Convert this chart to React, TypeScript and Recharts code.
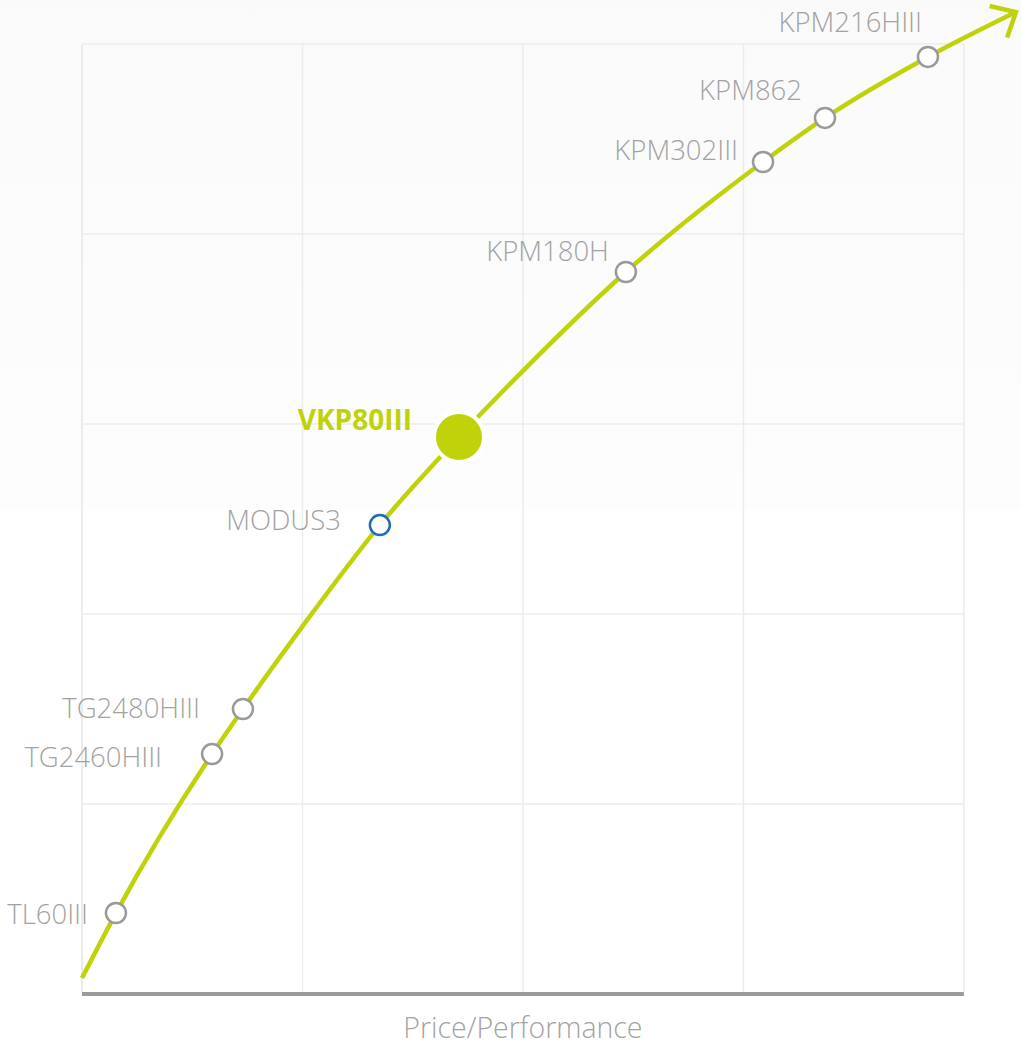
import React from "react";
import {
  ComposedChart,
  Line,
  Scatter,
  XAxis,
  YAxis,
  ReferenceLine,
} from "recharts";

// ---- data ----
const productNames = [
  "TL60III",
  "TG2460HIII",
  "TG2480HIII",
  "MODUS3",
  "VKP80III",
  "KPM180H",
  "KPM302III",
  "KPM862",
  "KPM216HIII",
];
const productX = [0.154, 0.59, 0.73, 1.351, 1.71, 2.467, 3.089, 3.37, 3.837];
const productY = [0.426, 1.263, 1.5, 2.468, 2.932, 3.8, 4.379, 4.611, 4.932];

const curveX = [0, 0.154, 0.59, 0.73, 1.0, 1.351, 1.71, 2.0, 2.467, 3.089, 3.37, 3.837, 4.236];
const curveY = [0.084, 0.426, 1.263, 1.5, 1.935, 2.468, 2.932, 3.28, 3.8, 4.379, 4.611, 4.932, 5.168];

const xGrid = [0, 1, 2, 3, 4];
const yGrid = [1, 2, 3, 4, 5];
const axisLabel = "Price/Performance";
const featured = "VKP80III";
const accent = "MODUS3";

// ---- layout / style constants ----
const labelOffsets: Record<string, [number, number]> = {
  TL60III: [28, 0],
  TG2460HIII: [50, -2],
  TG2480HIII: [43, 2],
  MODUS3: [39, 6],
  VKP80III: [47, 18],
  KPM180H: [17, 22],
  KPM302III: [25, 12],
  KPM862: [23, 28],
  KPM216HIII: [6, 35],
};

const LIME = "#c0d20a";
const GRAY = "#9a9a9a";
const GRID = "#ececec";
const FONT = "'Open Sans', 'Noto Sans', sans-serif";

const productData = productNames.map((name, i) => ({ name, x: productX[i], y: productY[i] }));
const curveData = curveX.map((x, i) => ({ x, y: curveY[i] }));

const ProductShape = (props: any) => {
  const { cx, cy, payload } = props;
  const name = payload.name as string;
  const [dx, dy] = labelOffsets[name] || [20, 0];
  const isFeatured = name === featured;
  const isAccent = name === accent;
  return (
    <g>
      {isFeatured ? (
        <circle cx={cx} cy={cy} r={25} fill={LIME} stroke="#fff" strokeWidth={4} />
      ) : (
        <circle
          cx={cx}
          cy={cy}
          r={10}
          fill="#fff"
          stroke={isAccent ? "#1f6db3" : GRAY}
          strokeWidth={2.5}
        />
      )}
      <text
        x={cx - dx}
        y={cy - dy}
        textAnchor="end"
        dominantBaseline="central"
        fontFamily={FONT}
        fontSize={isFeatured ? 28 : 27.5}
        fontWeight={isFeatured ? 700 : 300}
        fill={isFeatured ? LIME : "#a3a3a3"}
      >
        {name}
      </text>
    </g>
  );
};

const ArrowDot = (props: any) => {
  const { cx, cy, index } = props;
  if (index !== curveData.length - 1 || cx == null) return <g key={`d${index}`} />;
  const theta = (-29 * Math.PI) / 180;
  const back = theta + Math.PI;
  const spread = (42 * Math.PI) / 180;
  const L = 27;
  const a1 = [cx + L * Math.cos(back + spread), cy + L * Math.sin(back + spread)];
  const a2 = [cx + L * Math.cos(back - spread), cy + L * Math.sin(back - spread)];
  return (
    <polyline
      key={`d${index}`}
      points={`${a1[0]},${a1[1]} ${cx},${cy} ${a2[0]},${a2[1]}`}
      fill="none"
      stroke={LIME}
      strokeWidth={4.5}
      strokeLinejoin="miter"
    />
  );
};

export default function App() {
  return (
    <div
      style={{
        position: "absolute",
        left: 0,
        top: 0,
        width: 1021,
        height: 1046,
        background: "linear-gradient(to bottom, #fafafa 0px, #fcfcfc 300px, #fdfdfd 510px, #ffffff 511px)",
      }}
    >
      <ComposedChart
        width={1021}
        height={1046}
        margin={{ top: 6, right: 2, bottom: 52, left: 82 }}
      >
        <XAxis type="number" dataKey="x" domain={[0, 4.25]} hide />
        <YAxis type="number" dataKey="y" domain={[0, 5.2]} hide width={0} />
        {xGrid.map((gx) => (
          <ReferenceLine
            key={`vx${gx}`}
            segment={[
              { x: gx, y: 0 },
              { x: gx, y: 5 },
            ]}
            stroke={GRID}
            strokeWidth={gx === 0 ? 2 : 1.5}
            ifOverflow="visible"
          />
        ))}
        {yGrid.map((gy) => (
          <ReferenceLine
            key={`hy${gy}`}
            segment={[
              { x: 0, y: gy },
              { x: 4, y: gy },
            ]}
            stroke={GRID}
            strokeWidth={1.5}
            ifOverflow="visible"
          />
        ))}
        <ReferenceLine
          segment={[
            { x: 0, y: 0 },
            { x: 4, y: 0 },
          ]}
          stroke={GRAY}
          strokeWidth={4}
          ifOverflow="visible"
          label={{
            value: axisLabel,
            position: "bottom",
            offset: 24,
            fill: "#a3a3a3",
            fontSize: 28.5,
            fontFamily: FONT,
            fontWeight: 300,
          }}
        />
        <Line
          data={curveData}
          dataKey="y"
          type="monotoneX"
          stroke={LIME}
          strokeWidth={4.5}
          dot={ArrowDot}
          activeDot={false}
          isAnimationActive={false}
        />
        <Scatter
          data={productData}
          dataKey="y"
          shape={ProductShape}
          isAnimationActive={false}
        />
      </ComposedChart>
    </div>
  );
}
